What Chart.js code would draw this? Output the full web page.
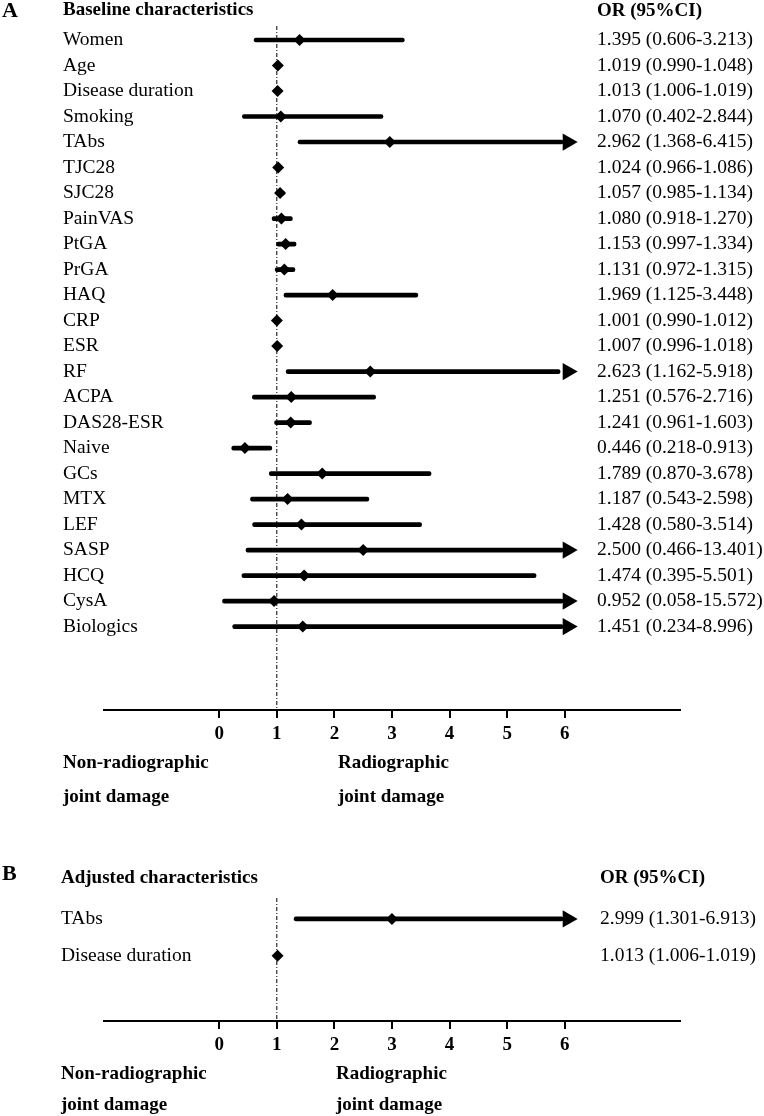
<!DOCTYPE html>
<html>
<head>
<meta charset="utf-8">
<title>Forest plot - joint damage</title>
<script src="https://cdn.jsdelivr.net/npm/chart.js@4.4.1/dist/chart.umd.min.js"></script>
<style>
  html, body { margin: 0; padding: 0; background: #fff; }
  #page { position: relative; width: 764px; height: 1116px; overflow: hidden;
          font-family: "Liberation Serif", "Times New Roman", serif; color: #000; }
  .wrap { position: absolute; left: 0; }
  .t { position: absolute; white-space: nowrap; font-weight: bold; font-size: 19px; line-height: 19px; }
  .panel { font-size: 22px; line-height: 22px; }
</style>
</head>
<body>
<div id="page">
  <div class="wrap" style="top:0"><canvas id="chartA" width="764" height="820"></canvas></div>
  <div class="wrap" style="top:860px"><canvas id="chartB" width="764" height="256"></canvas></div>

  <div class="t panel" style="left:2px;top:-1px">A</div>
  <div class="t" style="left:63px;top:-1px">Baseline characteristics</div>
  <div class="t" style="left:597px;top:0px">OR (95%CI)</div>
  <div class="t" style="left:63px;top:752px">Non-radiographic</div>
  <div class="t" style="left:338px;top:752px">Radiographic</div>
  <div class="t" style="left:63px;top:786px">joint damage</div>
  <div class="t" style="left:338px;top:786px">joint damage</div>

  <div class="t panel" style="left:2px;top:862px">B</div>
  <div class="t" style="left:61px;top:867px">Adjusted characteristics</div>
  <div class="t" style="left:600px;top:867px">OR (95%CI)</div>
  <div class="t" style="left:61px;top:1063px">Non-radiographic</div>
  <div class="t" style="left:336px;top:1063px">Radiographic</div>
  <div class="t" style="left:61px;top:1094px">joint damage</div>
  <div class="t" style="left:336px;top:1094px">joint damage</div>
</div>

<script>
// Panel A - baseline characteristics
const rowsA = ['Women', 'Age', 'Disease duration', 'Smoking', 'TAbs', 'TJC28', 'SJC28', 'PainVAS',
  'PtGA', 'PrGA', 'HAQ', 'CRP', 'ESR', 'RF', 'ACPA', 'DAS28-ESR', 'Naive', 'GCs', 'MTX', 'LEF',
  'SASP', 'HCQ', 'CysA', 'Biologics'];
const orA = [1.395, 1.019, 1.013, 1.070, 2.962, 1.024, 1.057, 1.080, 1.153, 1.131, 1.969, 1.001,
  1.007, 2.623, 1.251, 1.241, 0.446, 1.789, 1.187, 1.428, 2.500, 1.474, 0.952, 1.451];
const lowA = [0.606, 0.990, 1.006, 0.402, 1.368, 0.966, 0.985, 0.918, 0.997, 0.972, 1.125, 0.990,
  0.996, 1.162, 0.576, 0.961, 0.218, 0.870, 0.543, 0.580, 0.466, 0.395, 0.058, 0.234];
const highA = [3.213, 1.048, 1.019, 2.844, 6.415, 1.086, 1.134, 1.270, 1.334, 1.315, 3.448, 1.012,
  1.018, 5.918, 2.716, 1.603, 0.913, 3.678, 2.598, 3.514, 13.401, 5.501, 15.572, 8.996];

// Panel B - adjusted characteristics
const rowsB = ['TAbs', 'Disease duration'];
const orB = [2.999, 1.013];
const lowB = [1.301, 1.006];
const highB = [6.913, 1.019];

// x axis
const xTicks = [0, 1, 2, 3, 4, 5, 6];
const refLine = 1;
const lineCap = 5.97;   // CI lines longer than this end in an arrow
const arrowX = 6.05;

const serif = '"Liberation Serif", "Times New Roman", serif';

// draws the label column and the OR (95%CI) column on the row positions
const textColumns = {
  id: 'textColumns',
  afterDraw(chart, args, opts) {
    const ctx = chart.ctx;
    const y = chart.scales.y;
    ctx.save();
    ctx.fillStyle = '#000';
    ctx.font = '19.5px ' + serif;
    ctx.textBaseline = 'middle';
    ctx.textAlign = 'left';
    opts.labels.forEach((lab, i) => {
      const py = y.getPixelForValue(i);
      ctx.fillText(lab, opts.labelX, py);
      ctx.fillText(opts.orText[i], opts.orX, py);
    });
    ctx.restore();
  }
};

function fmt(v) { return v.toFixed(3); }

function makeForest(id, rows, or, lo, hi, lay) {
  const orText = rows.map((r, i) => `${fmt(or[i])} (${fmt(lo[i])}-${fmt(hi[i])})`);
  const arrows = [];
  rows.forEach((r, i) => { if (hi[i] > lineCap - 0.1) arrows.push({ x: arrowX, y: i }); });

  return new Chart(document.getElementById(id), {
    type: 'scatter',
    data: {
      datasets: [
        {
          type: 'scatter',
          data: rows.map((r, i) => ({ x: or[i], y: i })),
          pointStyle: 'rectRot',
          pointRadius: 6,
          backgroundColor: '#000',
          borderWidth: 0,
          order: 1
        },
        {
          type: 'scatter',
          data: arrows,
          pointStyle: 'triangle',
          rotation: 90,
          pointRadius: 10,
          backgroundColor: '#000',
          borderWidth: 0,
          order: 2
        },
        {
          type: 'bar',
          indexAxis: 'y',
          data: rows.map((r, i) => ({ x: [lo[i], Math.min(hi[i], lineCap)], y: i })),
          backgroundColor: '#000',
          barThickness: 4,
          borderWidth: 0,
          borderRadius: 2,
          borderSkipped: false,
          order: 3
        },
        {
          type: 'line',
          data: [{ x: refLine, y: lay.yMin }, { x: refLine, y: lay.yMax }],
          borderColor: '#000',
          borderWidth: 1,
          borderDash: [4, 2, 1, 2],
          pointRadius: 0,
          order: 4
        }
      ]
    },
    options: {
      responsive: false,
      animation: false,
      layout: { padding: { left: 104, right: 84, top: lay.top, bottom: lay.bottom } },
      plugins: {
        legend: { display: false },
        tooltip: { enabled: false },
        textColumns: { labels: rows, orText: orText, labelX: lay.labelX, orX: lay.orX }
      },
      scales: {
        x: {
          type: 'linear',
          min: -2,
          max: 8,
          offset: false,
          afterBuildTicks: s => { s.ticks = xTicks.map(v => ({ value: v })); },
          afterFit: s => { s.height = 40; },
          grid: { drawOnChartArea: false, drawTicks: true, tickLength: 8, color: '#000', lineWidth: 2 },
          border: { display: true, color: '#000', width: 2 },
          ticks: {
            color: '#000',
            padding: 5,
            autoSkip: false,
            maxRotation: 0,
            font: { family: serif, size: 19, weight: 'bold' }
          }
        },
        y: {
          type: 'linear', display: false, reverse: true, offset: false,
          grid: { offset: false },
          min: lay.yMin, max: lay.yMax
        }
      }
    },
    plugins: [textColumns]
  });
}

makeForest('chartA', rowsA, orA, lowA, highA,
  { top: 26, bottom: 70, yMin: -0.55, yMax: 26.27, labelX: 63, orX: 597 });
makeForest('chartB', rowsB, orB, lowB, highB,
  { top: 38, bottom: 55, yMin: -0.57, yMax: 2.78, labelX: 61, orX: 600 });
</script>
</body>
</html>
